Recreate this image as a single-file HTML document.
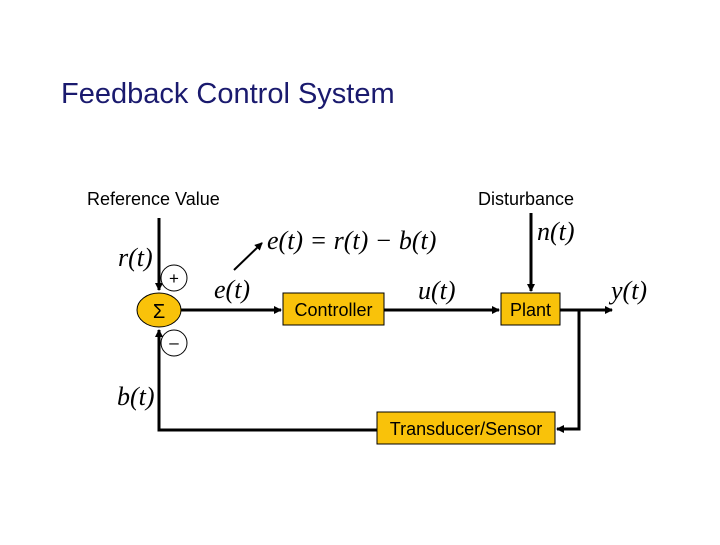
<!DOCTYPE html>
<html><head><style>
body{margin:0;background:#fff;}
svg text{font-family:"Liberation Sans",sans-serif;}
.m{font-family:"Liberation Serif",serif;font-style:italic;font-size:26px;}
</style></head><body>
<svg width="720" height="540" viewBox="0 0 720 540" xmlns="http://www.w3.org/2000/svg">
<defs><marker id="a" markerWidth="8" markerHeight="8" refX="7" refY="4" orient="auto" markerUnits="userSpaceOnUse"><path d="M0,0 L8,4 L0,8 z" fill="#000"/></marker></defs>
<text x="61" y="103" font-size="29" fill="#1a1a6e">Feedback Control System</text>
<text x="87" y="205" font-size="18">Reference Value</text>
<text x="478" y="205" font-size="18">Disturbance</text>
<g stroke="#000" stroke-width="4" fill="none">
<line x1="159" y1="218" x2="159" y2="290" stroke-width="3" marker-end="url(#a)"/>
<line x1="181" y1="310" x2="281" y2="310" stroke-width="3" marker-end="url(#a)"/>
<line x1="384" y1="310" x2="499" y2="310" stroke-width="3" marker-end="url(#a)"/>
<line x1="531" y1="213" x2="531" y2="291" stroke-width="3" marker-end="url(#a)"/>
<line x1="560" y1="310" x2="612" y2="310" stroke-width="3" marker-end="url(#a)"/>
<polyline points="579,310 579,429 557,429" stroke-width="3" marker-end="url(#a)"/>
<polyline points="377,430 159,430 159,330" stroke-width="3" marker-end="url(#a)"/>
<line x1="234" y1="270" x2="262" y2="243" stroke-width="2" marker-end="url(#a)"/>
</g>
<ellipse cx="159" cy="310" rx="22" ry="17" fill="#F9C20A" stroke="#000" stroke-width="1"/>
<text x="159" y="318" font-size="20" text-anchor="middle" font-family="Liberation Serif,serif">Σ</text>
<circle cx="174" cy="278" r="13" fill="#fff" stroke="#000" stroke-width="1"/>
<text x="174" y="284" font-size="17" text-anchor="middle">+</text>
<circle cx="174" cy="343" r="13" fill="#fff" stroke="#000" stroke-width="1"/>
<text x="174" y="348" font-size="17" text-anchor="middle">–</text>
<rect x="283" y="293" width="101" height="32" fill="#F9C20A" stroke="#000" stroke-width="1"/>
<text x="333.5" y="316" font-size="18" text-anchor="middle">Controller</text>
<rect x="501" y="293" width="59" height="32" fill="#F9C20A" stroke="#000" stroke-width="1"/>
<text x="530.5" y="316" font-size="18" text-anchor="middle">Plant</text>
<rect x="377" y="412" width="178" height="32" fill="#F9C20A" stroke="#000" stroke-width="1"/>
<text x="466" y="435" font-size="18" text-anchor="middle">Transducer/Sensor</text>
<text class="m" x="118" y="266">r(t)</text>
<text class="m" x="214" y="298">e(t)</text>
<text class="m" x="267" y="249">e(t) = r(t) − b(t)</text>
<text class="m" x="418" y="299">u(t)</text>
<text class="m" x="537" y="240" font-size="22">n(t)</text>
<text class="m" x="611" y="299">y(t)</text>
<text class="m" x="117" y="405">b(t)</text>
</svg>
</body></html>
